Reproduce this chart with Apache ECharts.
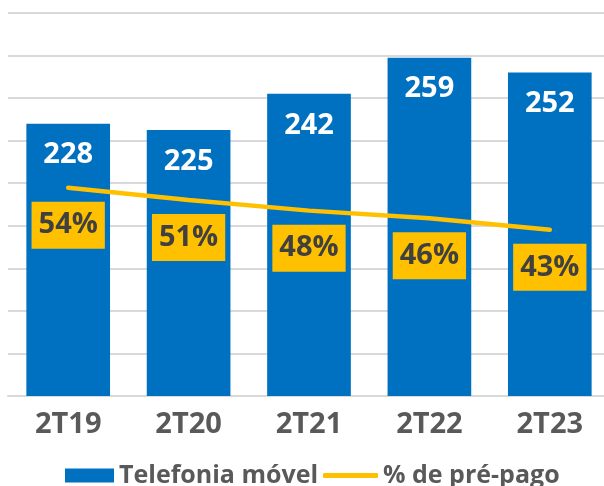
<!DOCTYPE html>
<html>
<head>
<meta charset="utf-8">
<script src="https://cdn.jsdelivr.net/npm/echarts@6/dist/echarts.min.js"></script>
<style>
html,body{margin:0;padding:0;background:#fff;}
#chart{width:604px;height:486px;}
</style>
</head>
<body>
<div id="chart"></div>
<script>
const categories = ['2T19', '2T20', '2T21', '2T22', '2T23'];
const telefoniaMovel = [228, 225, 242, 259, 252];
const prePago = [54.4, 51.2, 48.4, 46.4, 43.4];
const seriesNames = ['Telefonia móvel', '% de pré-pago'];

const FONT = 'Open Sans';
const legendText = {fontFamily: FONT, fontSize: 25, fontWeight: 'bold', color: '#595959'};
const chart = echarts.init(document.getElementById('chart'), null, {renderer: 'canvas'});
chart.setOption({
  animation: false,
  backgroundColor: '#ffffff',
  grid: {left: 8, right: -6, top: 13, bottom: 90, containLabel: false, outerBoundsMode: 'none'},
  legend: [
    {
      data: [seriesNames[0]], left: 60, top: 458, itemWidth: 49, itemHeight: 14, itemGap: 10,
      icon: 'rect', textStyle: legendText
    },
    {
      data: [seriesNames[1]], left: 318, top: 458, itemWidth: 55, itemHeight: 5, itemGap: 10,
      icon: 'roundRect', itemStyle: {color: '#FFC000'}, textStyle: legendText
    }
  ],
  xAxis: {
    type: 'category', data: categories,
    axisLine: {show: true, lineStyle: {color: '#d9d9d9', width: 2}},
    axisTick: {show: false},
    axisLabel: {margin: 14, fontFamily: FONT, fontSize: 29, fontWeight: 'bold', color: '#595959'}
  },
  yAxis: [
    {
      type: 'value', min: 100, max: 280, interval: 20,
      axisLabel: {show: false}, axisLine: {show: false}, axisTick: {show: false},
      splitLine: {show: true, lineStyle: {color: '#d9d9d9', width: 2}}
    },
    {type: 'value', min: 0, max: 100, show: false, splitLine: {show: false}}
  ],
  series: [
    {
      name: seriesNames[0], type: 'bar', data: telefoniaMovel, barWidth: '69.5%',
      itemStyle: {color: '#0070C0'},
      label: {
        show: true, position: 'insideTop', distance: 17,
        fontFamily: FONT, fontSize: 29, fontWeight: 'bold', color: '#ffffff'
      },
      z: 2
    },
    {
      name: seriesNames[1], type: 'line', yAxisIndex: 1, data: prePago,
      symbol: 'circle', symbolSize: 0.1, showSymbol: true,
      lineStyle: {color: '#FFC000', width: 4.5, cap: 'round'},
      itemStyle: {color: '#FFC000'},
      label: {
        show: true, position: 'bottom', distance: 14,
        formatter: p => Math.round(p.value) + '%',
        fontFamily: FONT, fontSize: 29, fontWeight: 'bold', color: '#404040',
        backgroundColor: '#FFC000', padding: [9, 7], lineHeight: 29
      },
      labelLayout: {hideOverlap: false},
      z: 5
    }
  ]
});
</script>
</body>
</html>
